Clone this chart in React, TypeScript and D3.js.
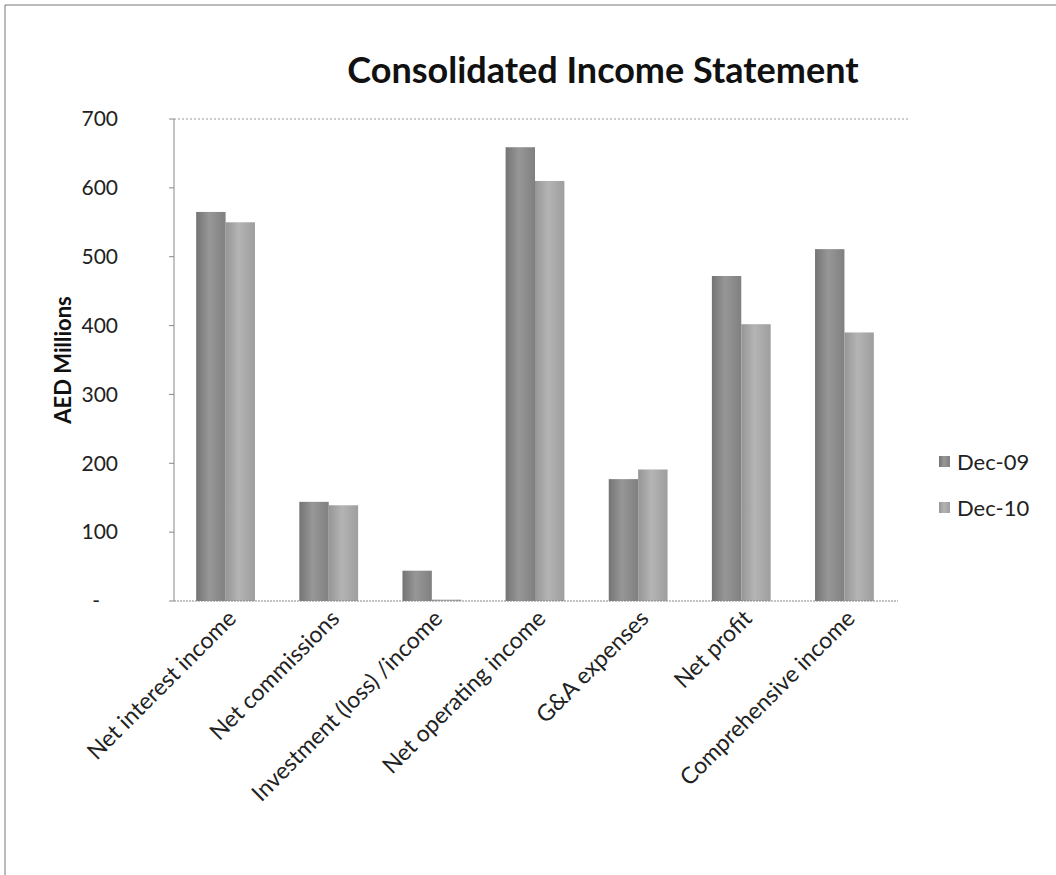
import React from "react";
import * as d3 from "d3";

const categories = [
  "Net interest income",
  "Net commissions",
  "Investment (loss) /income",
  "Net operating income",
  "G&A expenses",
  "Net profit",
  "Comprehensive income",
];
const seriesNames = ["Dec-09", "Dec-10"];
const dec09 = [565, 144, 44, 659, 177, 472, 511];
const dec10 = [550, 139, 2, 610, 191, 402, 390];
const yTicks = [0, 100, 200, 300, 400, 500, 600, 700];
const yTickLabels = ["-", "100", "200", "300", "400", "500", "600", "700"];

const W = 1056;
const H = 875;
const FONT = "Lato, 'Open Sans', sans-serif";

export default function App() {
  const x0 = d3
    .scaleBand<string>()
    .domain(categories)
    .range([174, 896])
    .paddingInner(0.43)
    .paddingOuter(0.215);
  const x1 = d3.scaleBand<string>().domain(seriesNames).range([0, x0.bandwidth()]);
  const y = d3.scaleLinear().domain([0, 700]).range([601, 119]);
  const series = [dec09, dec10];
  const fills = ["url(#g09)", "url(#g10)"];

  return (
    <svg
      width={W}
      height={H}
      style={{ position: "absolute", left: 0, top: 0, background: "#fff" }}
      xmlns="http://www.w3.org/2000/svg"
    >
      <defs>
        <linearGradient id="g09" x1="0" x2="1" y1="0" y2="0">
          <stop offset="0" stopColor="#747474" />
          <stop offset="0.45" stopColor="#979797" />
          <stop offset="1" stopColor="#808080" />
        </linearGradient>
        <linearGradient id="g10" x1="0" x2="1" y1="0" y2="0">
          <stop offset="0" stopColor="#969696" />
          <stop offset="0.45" stopColor="#b4b4b4" />
          <stop offset="1" stopColor="#9e9e9e" />
        </linearGradient>
      </defs>
      <rect x={0} y={0} width={W} height={H} fill="#fff" />
      {/* outer border */}
      <line x1={5} y1={5} x2={W} y2={5} stroke="#777" strokeWidth={1} />
      <line x1={5} y1={5} x2={5} y2={H} stroke="#777" strokeWidth={1} />

      {/* title */}
      <text
        x={603}
        y={83}
        textAnchor="middle"
        fontFamily={FONT}
        fontWeight="bold"
        fontSize={36}
        fill="#111"
      >
        Consolidated Income Statement
      </text>

      {/* gridline at top */}
      <line
        x1={174}
        x2={910}
        y1={y(700)}
        y2={y(700)}
        stroke="#999"
        strokeWidth={1}
        strokeDasharray="2,2"
      />

      {/* bars */}
      {categories.map((c, i) => (
        <g key={c}>
          {series.map((s, j) => (
            <rect
              key={j}
              x={(x0(c) as number) + (x1(seriesNames[j]) as number)}
              y={y(s[i])}
              width={x1.bandwidth()}
              height={y(0) - y(s[i])}
              fill={fills[j]}
            />
          ))}
        </g>
      ))}

      {/* axes */}
      <line x1={174} x2={174} y1={y(700)} y2={y(0)} stroke="#888" strokeWidth={1} />
      <line x1={174} x2={898} y1={y(0)} y2={y(0)} stroke="#888" strokeWidth={1} strokeDasharray="2,1" />
      {yTicks.map((t, i) => (
        <g key={t}>
          <line x1={169} x2={174} y1={y(t)} y2={y(t)} stroke="#888" />
          <text
            x={t === 0 ? 100 : 118}
            y={y(t)}
            dy="0.35em"
            textAnchor="end"
            fontFamily={FONT}
            fontSize={21}
            fill="#222"
          >
            {yTickLabels[i]}
          </text>
        </g>
      ))}

      {/* y axis title */}
      <text
        transform={`translate(71,360) rotate(-90)`}
        textAnchor="middle"
        fontFamily={FONT}
        fontWeight="bold"
        fontSize={22}
        fill="#111"
      >
        AED Millions
      </text>

      {/* x labels */}
      {categories.map((c) => {
        const cx = (x0(c) as number) + x0.bandwidth() / 2;
        return (
          <text
            key={c}
            transform={`translate(${cx + 12},${620}) rotate(-45)`}
            textAnchor="end"
            fontFamily={FONT}
            fontSize={23}
            fill="#222"
          >
            {c}
          </text>
        );
      })}

      {/* legend */}
      {seriesNames.map((n, j) => (
        <g key={n} transform={`translate(939,${456 + j * 46})`}>
          <rect x={0} y={0} width={11} height={11} fill={fills[j]} />
          <text x={18} y={6} dy="0.35em" fontFamily={FONT} fontSize={22} fill="#222">
            {n}
          </text>
        </g>
      ))}
    </svg>
  );
}
